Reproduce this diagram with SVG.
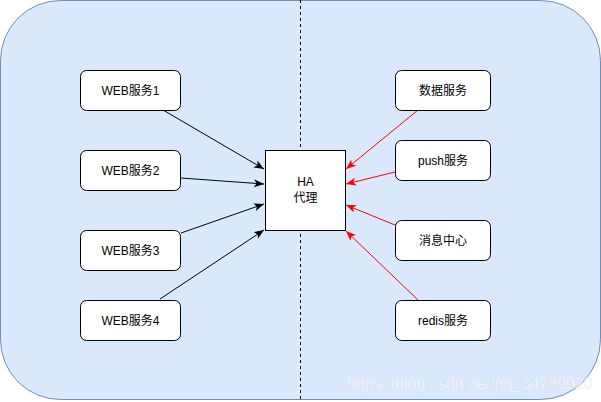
<svg xmlns="http://www.w3.org/2000/svg" width="601" height="402" viewBox="0 0 601 402">
<style>
.node rect{fill:#ffffff;stroke:#000000;stroke-width:1}
.node text{font-family:"Liberation Sans",Arial,"Noto Sans CJK SC",sans-serif;font-size:12px;fill:#000000;text-anchor:middle}
.blk{stroke:#000000;stroke-width:1;fill:none}
.red{stroke:#ff0000;stroke-width:1;fill:none}
</style>
<defs>
<marker id="ab" markerUnits="userSpaceOnUse" markerWidth="12" markerHeight="10" refX="10" refY="4" orient="auto" overflow="visible">
<path d="M0,0 L10,4 L0,8 L2.5,4 Z" fill="#000000"/>
</marker>
<marker id="ar" markerUnits="userSpaceOnUse" markerWidth="12" markerHeight="10" refX="10" refY="4" orient="auto" overflow="visible">
<path d="M0,0 L10,4 L0,8 L2.5,4 Z" fill="#ff0000"/>
</marker>
</defs>
<g id="background">
<rect x="0.5" y="0.5" width="600" height="399" rx="60" ry="60" fill="#dae8fc" stroke="#6c8ebf" stroke-width="1"/>
<line x1="300.5" y1="0" x2="300.5" y2="400" stroke="#000000" stroke-width="1" stroke-dasharray="3,3"/>
</g>
<g id="connectors">
<line class="blk" x1="163" y1="110" x2="264" y2="169" marker-end="url(#ab)"/>
<line class="blk" x1="181" y1="178" x2="264" y2="184" marker-end="url(#ab)"/>
<line class="blk" x1="181" y1="233" x2="264" y2="204" marker-end="url(#ab)"/>
<line class="blk" x1="160" y1="299" x2="264" y2="230" marker-end="url(#ab)"/>
<line class="red" x1="418" y1="110" x2="346" y2="169" marker-end="url(#ar)"/>
<line class="red" x1="395" y1="172" x2="346" y2="184" marker-end="url(#ar)"/>
<line class="red" x1="395" y1="225" x2="346" y2="205" marker-end="url(#ar)"/>
<line class="red" x1="418" y1="300" x2="346" y2="231" marker-end="url(#ar)"/>
</g>
<g id="web1" class="node"><rect x="80.5" y="70.5" width="100" height="40" rx="6"/><text x="130.5" y="95">WEB服务1</text></g>
<g id="web2" class="node"><rect x="80.5" y="150.5" width="100" height="40" rx="6"/><text x="130.5" y="175">WEB服务2</text></g>
<g id="web3" class="node"><rect x="80.5" y="230.5" width="100" height="40" rx="6"/><text x="130.5" y="255">WEB服务3</text></g>
<g id="web4" class="node"><rect x="80.5" y="300.5" width="100" height="40" rx="6"/><text x="130.5" y="325">WEB服务4</text></g>
<g id="ha" class="node"><rect x="265.5" y="150.5" width="80" height="80"/><text x="305.5" y="186">HA</text><text x="305.5" y="202">代理</text></g>
<g id="data" class="node"><rect x="395.5" y="70.5" width="95" height="40" rx="6"/><text x="443" y="95">数据服务</text></g>
<g id="push" class="node"><rect x="395.5" y="140.5" width="95" height="40" rx="6"/><text x="443" y="165">push服务</text></g>
<g id="msg" class="node"><rect x="395.5" y="220.5" width="95" height="40" rx="6"/><text x="443" y="245">消息中心</text></g>
<g id="redis" class="node"><rect x="395.5" y="300.5" width="95" height="40" rx="6"/><text x="443" y="325">redis服务</text></g>
<g id="watermark">
<text x="347" y="389" font-family="Arial,'Liberation Sans',sans-serif" font-size="16" fill="#ffffff" fill-opacity="0.75" stroke="#c8c8c8" stroke-opacity="0.4" stroke-width="0.5">https://blog.csdn.net/qq_34789920</text>
</g>
</svg>
